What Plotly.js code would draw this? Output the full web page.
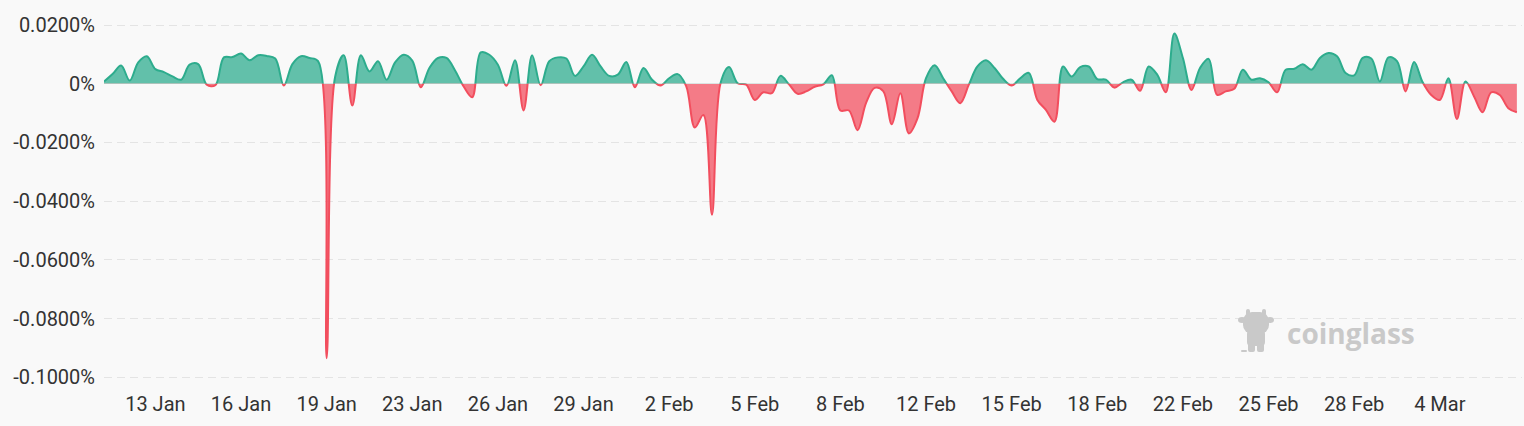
<!DOCTYPE html>
<html>
<head>
<meta charset="utf-8">
<script src="https://cdn.plot.ly/plotly-3.0.1.min.js"></script>
<style>
html,body{margin:0;padding:0;background:#f9f9f9;}
#chart{width:1524px;height:426px;}
</style>
</head>
<body>
<div id="chart"></div>
<script>
// Funding rate (%) every 8 hours, from 11 Jan 00:00
const fundingRate = [
 0.0008, 0.0033, 0.0062, 0.0011, 0.0073, 0.0094, 0.0050, 0.0040, 0.0025, 0.0014,
 0.0065, 0.0067,-0.0003,-0.0005, 0.0090, 0.0091, 0.0103, 0.0080, 0.0097, 0.0095,
 0.0086,-0.0006, 0.0067, 0.0094, 0.0088, 0.0077,-0.0935, 0.0025, 0.0097,-0.0074,
 0.0097, 0.0042, 0.0077, 0.0014, 0.0073, 0.0099, 0.0079,-0.0012, 0.0054, 0.0088,
 0.0088, 0.0045,-0.0009,-0.0046, 0.0107, 0.0099, 0.0065,-0.0007, 0.0080,-0.0091,
 0.0097,-0.0005, 0.0077, 0.0090, 0.0086, 0.0027, 0.0059, 0.0099, 0.0059, 0.0027,
 0.0031, 0.0074,-0.0012, 0.0054, 0.0014,-0.0006, 0.0019, 0.0033,-0.0009,-0.0149,
-0.0106,-0.0446, 0.0002, 0.0057, 0.0002,-0.0003,-0.0055,-0.0029,-0.0032, 0.0027,
-0.0002,-0.0034,-0.0026,-0.0010,-0.0002, 0.0029,-0.0091,-0.0091,-0.0158,-0.0065,
-0.0014,-0.0025,-0.0138,-0.0032,-0.0169,-0.0118, 0.0019, 0.0063, 0.0019,-0.0026,
-0.0066,-0.0003, 0.0059, 0.0080, 0.0054, 0.0017,-0.0006, 0.0019, 0.0037,-0.0055,
-0.0089,-0.0129, 0.0059, 0.0025, 0.0057, 0.0059, 0.0016, 0.0014,-0.0013, 0.0005,
 0.0014,-0.0024, 0.0059, 0.0031,-0.0029, 0.0171, 0.0088,-0.0021, 0.0054, 0.0085,
-0.0038,-0.0026,-0.0017, 0.0048, 0.0014, 0.0019, 0.0005,-0.0029, 0.0048, 0.0051,
 0.0067, 0.0048, 0.0088, 0.0105, 0.0094, 0.0037, 0.0029, 0.0088, 0.0086, 0.0008,
 0.0090, 0.0077,-0.0026, 0.0074, 0.0005,-0.0038,-0.0055, 0.0019,-0.0120, 0.0008,
-0.0043,-0.0097,-0.0029,-0.0038,-0.0083,-0.0097
];

const xTickLabels = ["13 Jan","16 Jan","19 Jan","23 Jan","26 Jan","29 Jan","2 Feb","5 Feb",
  "8 Feb","12 Feb","15 Feb","18 Feb","22 Feb","25 Feb","28 Feb","4 Mar"];
const yTickValsPos = [0, 0.02];
const yTickTextPos = ["0%", "0.0200%"];
const yTickValsNeg = [-0.1, -0.08, -0.06, -0.04, -0.02];
const yTickTextNeg = ["-0.1000%", "-0.0800%", "-0.0600%", "-0.0400%", "-0.0200%"];

// category labels: one per 8-hour funding interval
const start = Date.UTC(2025, 0, 11, 0, 0);
function pad(n){return (n<10?'0':'')+n;}
const categories = fundingRate.map((_, i) => {
  const d = new Date(start + i * 8 * 3600 * 1000);
  return d.getUTCFullYear() + '-' + pad(d.getUTCMonth()+1) + '-' + pad(d.getUTCDate()) + ' ' + pad(d.getUTCHours()) + ':00';
});
const xTickVals = xTickLabels.map((_, k) => categories[6 + 10 * k]);

const green = 'rgb(45,172,141)';
const greenFill = 'rgba(45,172,141,0.74)';
const red = 'rgb(242,78,94)';
const redFill = 'rgba(242,78,94,0.74)';

const yTop = 0.026848, yBottom = -0.102624;
const split = (0 - yBottom) / (yTop - yBottom);

const tickFont = {family: 'Roboto, "DejaVu Sans", sans-serif', size: 20, color: '#333333'};
const gridStyle = {showgrid: true, gridcolor: '#e4e4e4', gridwidth: 1, griddash: '8px,5px',
  zeroline: false, showline: false, ticks: '', ticklabelstandoff: 8, tickfont: tickFont, fixedrange: true};

const base = {x: categories, y: fundingRate, type: 'scatter', mode: 'lines',
  fill: 'tozeroy', hoverinfo: 'skip'};

const traces = [
  Object.assign({}, base, {xaxis: 'x', yaxis: 'y',
    line: {shape: 'spline', smoothing: 1, width: 2, color: green}, fillcolor: greenFill}),
  Object.assign({}, base, {xaxis: 'x', yaxis: 'y2',
    line: {shape: 'spline', smoothing: 1, width: 2, color: red}, fillcolor: redFill})
];

const cowSvg = '<svg xmlns="http://www.w3.org/2000/svg" viewBox="0 0 36 46">' +
  '<g fill="#c9c9c9">' +
  '<rect x="8" y="0" width="4" height="7" rx="2"/><rect x="24" y="0" width="4" height="7" rx="2"/>' +
  '<ellipse cx="4" cy="11" rx="4" ry="3"/><ellipse cx="32" cy="11" rx="4" ry="3"/>' +
  '<rect x="5" y="3" width="26" height="22" rx="9"/>' +
  '<rect x="9" y="21" width="18" height="16" rx="4"/>' +
  '<rect x="10" y="34" width="7" height="9" rx="2"/><rect x="19" y="34" width="7" height="9" rx="2"/>' +
  '<rect x="3" y="41" width="6" height="2" rx="1"/>' +
  '</g></svg>';

const layout = {
  width: 1524, height: 426,
  margin: {l: 104, r: 2, t: 5, b: 41, pad: 0},
  paper_bgcolor: '#f9f9f9', plot_bgcolor: '#f9f9f9',
  showlegend: false,
  xaxis: {type: 'category', range: [0, 165.6], anchor: 'y2', tickmode: 'array',
    tickvals: xTickVals, ticktext: xTickLabels, showgrid: false, zeroline: false,
    showline: false, ticks: '', ticklabelstandoff: 5, tickfont: tickFont, fixedrange: true},
  yaxis: Object.assign({domain: [split, 1], range: [0, yTop], anchor: 'x',
    tickmode: 'array', tickvals: yTickValsPos, ticktext: yTickTextPos}, gridStyle),
  yaxis2: Object.assign({domain: [0, split], range: [yBottom, 0], anchor: 'x',
    tickmode: 'array', tickvals: yTickValsNeg, ticktext: yTickTextNeg}, gridStyle),
  annotations: [{
    text: '<b>coinglass</b>', xref: 'paper', yref: 'paper',
    x: (1351 - 104) / 1418, y: (385 - 333) / 380, xanchor: 'center', yanchor: 'middle',
    showarrow: false, font: {family: '"Open Sans", sans-serif', size: 28, color: '#c9c9c9'}
  }],
  images: [{
    source: 'data:image/svg+xml;charset=utf-8,' + encodeURIComponent(cowSvg),
    xref: 'paper', yref: 'paper',
    x: (1238 - 104) / 1418, y: (385 - 309) / 380,
    sizex: 36 / 1418, sizey: 46 / 380, sizing: 'stretch',
    xanchor: 'left', yanchor: 'top', layer: 'above'
  }]
};

Plotly.newPlot('chart', traces, layout, {displayModeBar: false, staticPlot: true});
</script>
</body>
</html>
